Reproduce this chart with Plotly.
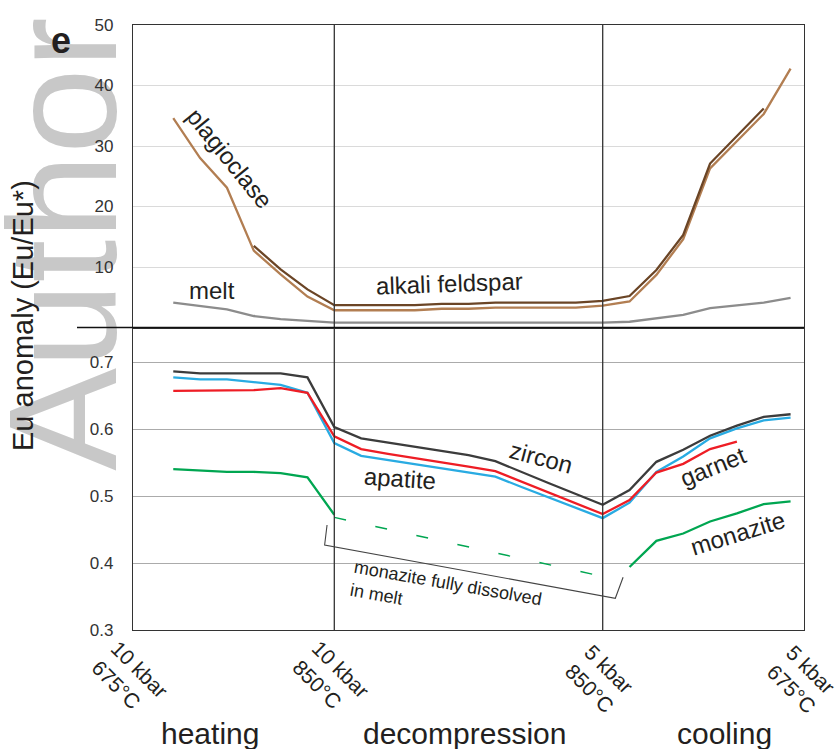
import plotly.graph_objects as go
from plotly.subplots import make_subplots

# ---------------- data ----------------
steps = list(range(24))  # model steps along the P-T path
tick_pos = [-1.5, 6, 16, 23.5]
tick_text = ["10 kbar<br>675°C", "10 kbar<br>850°C", "5 kbar<br>850°C", "5 kbar<br>675°C"]
phase_text = ["heating", "decompression", "cooling"]

plagioclase = [34.6, 28.0, 23.1, 12.7, 8.8, 5.1, 2.85, 2.85, 2.85, 2.85, 3.1, 3.1,
               3.3, 3.3, 3.3, 3.3, 3.6, 4.3, 8.7, 14.6, 26.3, 30.8, 35.3, 42.8]
alkali_steps = list(range(3, 23))
alkali_feldspar = [13.5, 9.6, 6.3, 3.7, 3.7, 3.7, 3.7, 3.9, 3.9, 4.1, 4.1, 4.1, 4.1,
                   4.4, 5.2, 9.5, 15.3, 27.1, 31.6, 36.2]
melt = [4.1, 3.5, 3.0, 1.9, 1.4, 1.1, 0.8, 0.8, 0.8, 0.8, 0.8, 0.8,
        0.8, 0.8, 0.8, 0.8, 0.8, 0.95, 1.5, 2.1, 3.2, 3.6, 4.1, 4.9]

zircon = [0.686, 0.683, 0.683, 0.683, 0.683, 0.677, 0.603, 0.586, 0.580, 0.574, 0.567, 0.561,
          0.552, 0.535, 0.519, 0.503, 0.487, 0.509, 0.551, 0.569, 0.590, 0.605, 0.618, 0.622]
apatite = [0.677, 0.674, 0.674, 0.670, 0.666, 0.654, 0.579, 0.560, 0.554, 0.548, 0.541, 0.535,
           0.529, 0.513, 0.498, 0.482, 0.467, 0.490, 0.536, 0.559, 0.586, 0.601, 0.613, 0.617]
garnet_steps = list(range(22))
garnet = [0.657, 0.657, 0.658, 0.658, 0.661, 0.654, 0.589, 0.570, 0.563, 0.557, 0.550, 0.544,
          0.537, 0.521, 0.505, 0.489, 0.473, 0.494, 0.535, 0.548, 0.570, 0.581]
monazite_heat_steps = list(range(7))
monazite_heat = [0.540, 0.538, 0.536, 0.536, 0.534, 0.528, 0.472]
monazite_dissolved_steps = [6, 16]
monazite_dissolved = [0.468, 0.380]
monazite_cool_steps = list(range(17, 24))
monazite_cool = [0.394, 0.433, 0.444, 0.462, 0.474, 0.488, 0.492]

# ---------------- figure ----------------
W, H = 838, 749
L, R, T, B = 133, 34, 25, 119
PW, PH = W - L - R, H - T - B


def px(xp):
    return (xp - L) / PW


def py(yp):
    return (H - B - yp) / PH


fig = make_subplots(rows=2, cols=1, shared_xaxes=True, vertical_spacing=0)

C_PLAG = "#B27E52"
C_AFS = "#6B4526"
C_MELT = "#8C8C8C"
C_ZRN = "#3C3C3C"
C_AP = "#29ABE2"
C_GRT = "#EE1D25"
C_MNZ = "#00A651"
LW = 2.3

fig.add_trace(go.Scatter(x=steps, y=melt, mode="lines", line=dict(color=C_MELT, width=LW)), row=1, col=1)
fig.add_trace(go.Scatter(x=steps, y=plagioclase, mode="lines", line=dict(color=C_PLAG, width=LW)), row=1, col=1)
fig.add_trace(go.Scatter(x=alkali_steps, y=alkali_feldspar, mode="lines", line=dict(color=C_AFS, width=LW)), row=1, col=1)

fig.add_trace(go.Scatter(x=monazite_heat_steps, y=monazite_heat, mode="lines", line=dict(color=C_MNZ, width=LW)), row=2, col=1)
fig.add_trace(go.Scatter(x=monazite_dissolved_steps, y=monazite_dissolved, mode="lines",
                         line=dict(color=C_MNZ, width=1.4, dash="12px,30px")), row=2, col=1)
fig.add_trace(go.Scatter(x=monazite_cool_steps, y=monazite_cool, mode="lines", line=dict(color=C_MNZ, width=LW)), row=2, col=1)
fig.add_trace(go.Scatter(x=steps, y=apatite, mode="lines", line=dict(color=C_AP, width=LW)), row=2, col=1)
fig.add_trace(go.Scatter(x=garnet_steps, y=garnet, mode="lines", line=dict(color=C_GRT, width=LW)), row=2, col=1)
fig.add_trace(go.Scatter(x=steps, y=zircon, mode="lines", line=dict(color=C_ZRN, width=LW)), row=2, col=1)

FONT = "Liberation Sans, Arial, sans-serif"
TXT = "#231F20"

fig.update_layout(
    width=W, height=H,
    margin=dict(l=L, r=R, t=T, b=B, pad=0),
    paper_bgcolor="white", plot_bgcolor="white",
    showlegend=False,
    font=dict(family=FONT, color=TXT),
)

axis_common = dict(showline=True, mirror=True, linecolor="#333333", linewidth=1.4)
fig.update_xaxes(range=[-1.5, 23.5], showgrid=False, showticklabels=False, ticks="",
                 zeroline=False, **axis_common)
fig.update_yaxes(row=1, col=1, range=[0, 50], tickvals=[10, 20, 30, 40, 50],
                 gridcolor="#DADADA", gridwidth=1.3, zeroline=False, ticks="",
                 ticklabelstandoff=15, tickfont=dict(size=17, color="#333333"), **axis_common)
fig.update_yaxes(row=2, col=1, range=[0.3, 0.7515], tickvals=[0.3, 0.4, 0.5, 0.6, 0.7],
                 tickformat=".1f", gridcolor="#ABABAB", gridwidth=1.2, zeroline=False, ticks="",
                 ticklabelstandoff=15, tickfont=dict(size=17, color="#333333"), **axis_common)

shapes = []
# watermark (below everything)
shapes.append(dict(type="rect", xref="paper", yref="paper", layer="below",
                   x0=px(0), x1=px(96), y0=py(480), y1=py(8),
                   line=dict(width=0), fillcolor="rgba(0,0,0,0)",
                   label=dict(text="Author", textangle=-90, textposition="middle center",
                              font=dict(size=154, color="#C8C8C8", family=FONT))))
# vertical stage boundaries
for xv in tick_pos[1:3]:
    shapes.append(dict(type="line", xref="x", yref="paper", x0=xv, x1=xv, y0=0, y1=1,
                       line=dict(color="#333333", width=1.3)))
# panel divider
shapes.append(dict(type="line", xref="paper", yref="paper", x0=px(77), x1=1, y0=0.5, y1=0.5,
                   line=dict(color="#111111", width=1.6)))
# bracket for dissolved monazite
shapes.append(dict(type="path", xref="x", yref="y2",
                   path="M 5.73 0.4567 L 5.64 0.4269 L 16.47 0.3473 L 16.76 0.3787",
                   line=dict(color="#444444", width=1.1)))
fig.update_layout(shapes=shapes)

ann = []
for xv, t in zip(tick_pos, tick_text):
    ann.append(dict(x=xv, xref="x", y=py(679), yref="paper", text=t, showarrow=False,
                    textangle=45, xanchor="center", yanchor="middle", align="left",
                    xshift=-3, font=dict(size=21, color=TXT)))
for (cx, t) in zip([210, 464, 724], phase_text):
    ann.append(dict(x=px(cx), y=py(733), xref="paper", yref="paper", text=t, showarrow=False,
                    xanchor="center", yanchor="middle", font=dict(size=30, color=TXT)))


def label(text, cx, cy, size=24, angle=0, align="center"):
    ann.append(dict(x=px(cx), y=py(cy), xref="paper", yref="paper", text=text, showarrow=False,
                    textangle=angle, xanchor="center", yanchor="middle", align=align,
                    font=dict(size=size, color=TXT)))


label("Eu anomaly (Eu/Eu*)", 23, 316, size=29, angle=-90)
label("<b>e</b>", 61, 41, size=36)
label("plagioclase", 230, 158, angle=51)
label("melt", 212, 290)
label("alkali feldspar", 449, 284, angle=-2)
label("zircon", 541, 458, angle=15)
label("apatite", 400, 478, angle=4)
label("garnet", 713, 467, angle=-22)
label("monazite", 737, 533, angle=-17)
label("monazite fully dissolved<br>in melt", 446, 594, size=18, angle=10, align="left")

fig.update_layout(annotations=ann)

fig.write_html("out.html")
